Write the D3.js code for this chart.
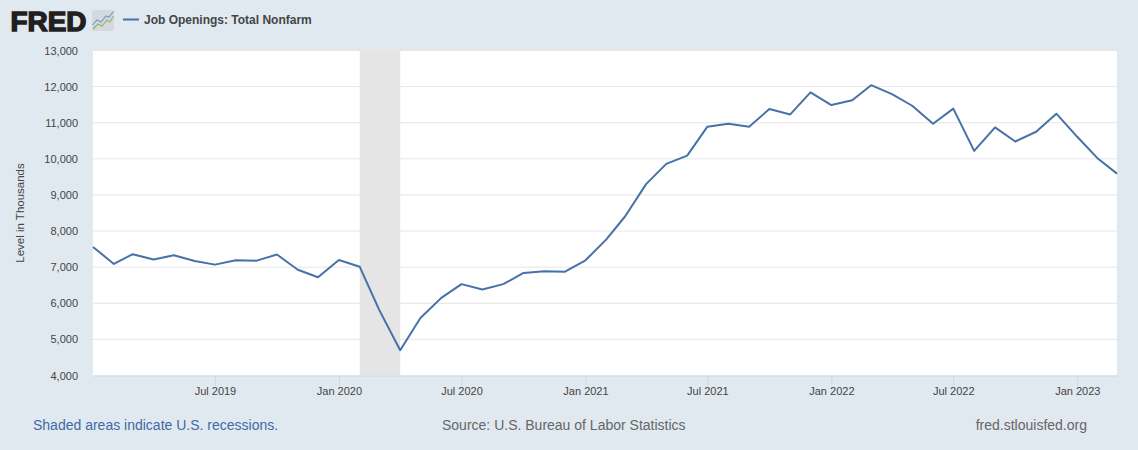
<!DOCTYPE html>
<html>
<head>
<meta charset="utf-8">
<script src="https://cdn.jsdelivr.net/npm/d3@7"></script>
<style>
  html, body { margin: 0; padding: 0; background: #e1e9f0; overflow: hidden; }
  text { font-family: "Liberation Sans", Arial, sans-serif; }
</style>
</head>
<body>
<svg id="chart" width="1138" height="450"></svg>
<script>
// Job openings, thousands, monthly from Jan 2019 to Mar 2023
const firstMonth = '2019-01-01';
const openings = [
  7560, 7090, 7360, 7210, 7330, 7170, 7070, 7190, 7180, 7350, 6930, 6720,
  7200, 7010, 5810, 4700, 5590, 6150, 6530, 6380, 6530, 6840, 6890, 6870,
  7190, 7770, 8410, 9300, 9860, 10090, 10890, 10970, 10890, 11380, 11230, 11840,
  11490, 11620, 12040, 11790, 11470, 10970, 11390, 10220, 10870, 10480, 10750, 11250,
  10610, 10000, 9590
];
const recession = ['2020-02-01', '2020-04-01'];
const xTicks = ['2019-07-01', '2020-01-01', '2020-07-01', '2021-01-01', '2021-07-01', '2022-01-01', '2022-07-01', '2023-01-01'];
const yTicks = [4000, 5000, 6000, 7000, 8000, 9000, 10000, 11000, 12000, 13000];
const seriesName = 'Job Openings: Total Nonfarm';

const parseDay = d3.utcParse('%Y-%m-%d');
const start = parseDay(firstMonth);
const data = openings.map((v, i) => ({ date: d3.utcMonth.offset(start, i), value: v }));

const plotLeft = 93, plotRight = 1117, plotTop = 50.5, plotBottom = 375.5;

const x = d3.scaleUtc()
  .domain(d3.extent(data, d => d.date))
  .range([plotLeft, plotRight]);
const y = d3.scaleLinear()
  .domain([4000, 13000])
  .range([plotBottom, plotTop]);

const svg = d3.select('#chart');

svg.append('rect')
  .attr('x', plotLeft).attr('y', plotTop)
  .attr('width', plotRight - plotLeft).attr('height', plotBottom - plotTop)
  .attr('fill', '#fff');

// gridlines
svg.append('g')
  .selectAll('line')
  .data(yTicks.filter(d => d > 4000))
  .join('line')
  .attr('x1', plotLeft).attr('x2', plotRight)
  .attr('y1', d => y(d)).attr('y2', d => y(d))
  .attr('stroke', '#e6e6e6');

// recession band
svg.append('rect')
  .attr('x', x(parseDay(recession[0])))
  .attr('y', plotTop)
  .attr('width', x(parseDay(recession[1])) - x(parseDay(recession[0])))
  .attr('height', plotBottom - plotTop)
  .attr('fill', '#e5e5e5');

const yAxis = svg.append('g')
  .attr('transform', `translate(${plotLeft},0)`)
  .call(d3.axisLeft(y).tickValues(yTicks).tickFormat(d3.format(',')).tickSize(0).tickPadding(15));
yAxis.select('.domain').remove();
yAxis.selectAll('text')
  .attr('font-size', 11).attr('fill', '#444').style('font-family', '"Liberation Sans", Arial, sans-serif');

const xAxis = svg.append('g')
  .attr('transform', `translate(0,${plotBottom})`)
  .call(d3.axisBottom(x)
    .tickValues(xTicks.map(parseDay))
    .tickFormat(d3.utcFormat('%b %Y'))
    .tickSize(10).tickPadding(2).tickSizeOuter(0));
xAxis.select('.domain').attr('stroke', '#ccd6eb');
xAxis.selectAll('line').attr('stroke', '#ccd6eb');
xAxis.selectAll('text')
  .attr('font-size', 11).attr('fill', '#444').style('font-family', '"Liberation Sans", Arial, sans-serif');

svg.append('text')
  .attr('transform', 'translate(24,213) rotate(-90)')
  .attr('text-anchor', 'middle')
  .attr('font-size', 11.5)
  .attr('fill', '#444')
  .text('Level in Thousands');

const line = d3.line().x(d => x(d.date)).y(d => y(d.value));
svg.append('path')
  .datum(data)
  .attr('d', line)
  .attr('fill', 'none')
  .attr('stroke', '#4572a7')
  .attr('stroke-width', 2)
  .attr('stroke-linejoin', 'round');

// logo
svg.append('text')
  .attr('x', 10.5).attr('y', 30.5)
  .attr('font-size', 27)
  .attr('font-weight', 700)
  .attr('fill', '#231f20')
  .attr('stroke', '#231f20')
  .attr('stroke-width', 1.4)
  .attr('textLength', 76)
  .attr('lengthAdjust', 'spacingAndGlyphs')
  .text('FRED');

const icon = svg.append('g').attr('transform', 'translate(92,10)');
icon.append('rect')
  .attr('width', 22).attr('height', 21).attr('rx', 2)
  .attr('fill', '#d5d9dc');
icon.append('path')
  .attr('d', 'M0.5 15 L5 10 L9 12 L14 6 L17 7 L21.5 1.5')
  .attr('fill', 'none').attr('stroke', '#6f9cc3').attr('stroke-width', 1.1);
icon.append('path')
  .attr('d', 'M1 19 L6 14 L10 16 L15 10 L18 12 L21.5 6')
  .attr('fill', 'none').attr('stroke', '#8fb46a').attr('stroke-width', 1.1);

// legend
svg.append('line')
  .attr('x1', 123).attr('x2', 139)
  .attr('y1', 19.5).attr('y2', 19.5)
  .attr('stroke', '#4572a7').attr('stroke-width', 2);
svg.append('text')
  .attr('x', 144).attr('y', 24)
  .attr('font-size', 12)
  .attr('font-weight', 700)
  .attr('fill', '#444')
  .text(seriesName);

// footer
svg.append('text')
  .attr('x', 33).attr('y', 430)
  .attr('font-size', 14)
  .attr('fill', '#3e6ba5')
  .text('Shaded areas indicate U.S. recessions.');
svg.append('text')
  .attr('x', 442).attr('y', 430)
  .attr('font-size', 14)
  .attr('fill', '#666')
  .text('Source: U.S. Bureau of Labor Statistics');
svg.append('text')
  .attr('x', 1087).attr('y', 430)
  .attr('text-anchor', 'end')
  .attr('font-size', 14)
  .attr('fill', '#666')
  .text('fred.stlouisfed.org');
</script>
</body>
</html>
